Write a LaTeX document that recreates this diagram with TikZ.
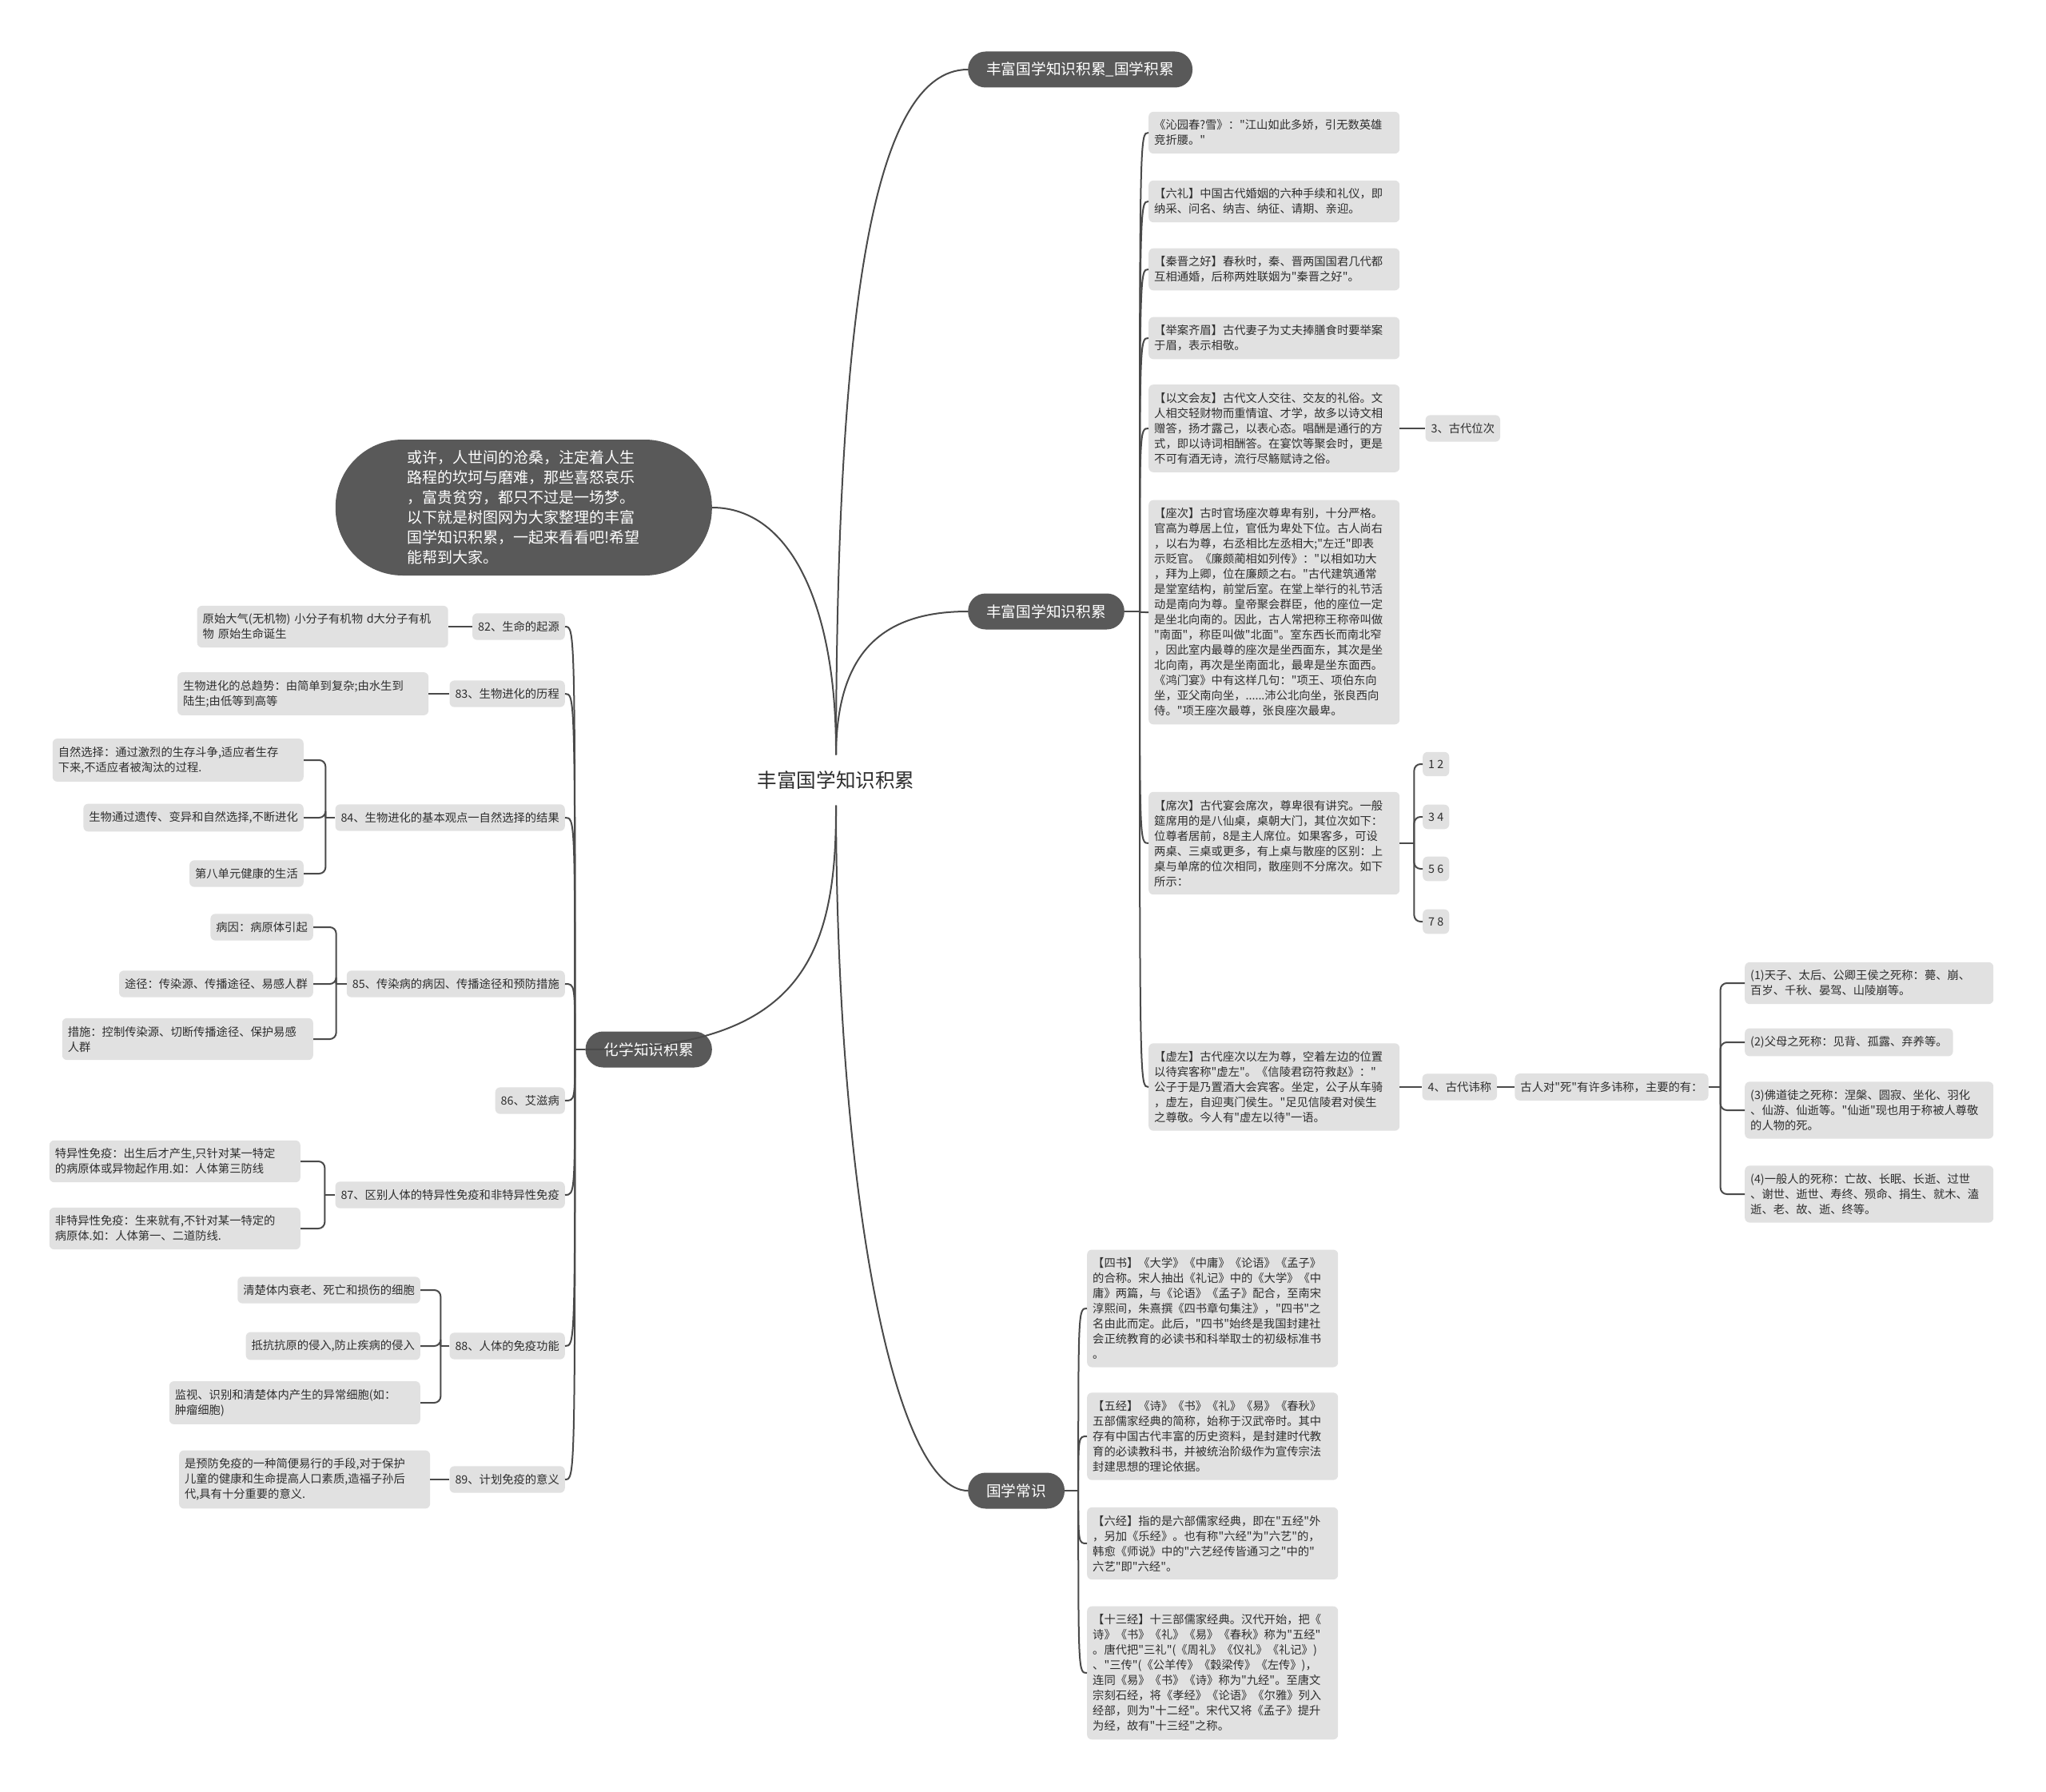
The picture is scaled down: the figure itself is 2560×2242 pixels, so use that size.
\documentclass[tikz,border=0pt]{standalone}
\usepackage{fontspec}
\newfontfamily\cjk{Noto Sans CJK SC}
\usetikzlibrary{positioning}

\definecolor{branchgray}{HTML}{595959}
\definecolor{leafgray}{HTML}{E1E1E1}
\definecolor{linegray}{HTML}{4A4A4A}
\definecolor{inkgray}{HTML}{2E2E2E}

\begin{document}
\begin{tikzpicture}[
    x=1pt, y=-1pt,
    node distance=30pt,
    root/.style={text=inkgray, font=\cjk\fontsize{24.6}{30}\selectfont, inner xsep=4pt, inner ysep=20pt},
    branch/.style={rectangle, fill=branchgray, text=white, rounded corners=22pt, minimum height=45pt, inner xsep=23pt, inner ysep=10pt, font=\cjk\fontsize{18.7}{24}\selectfont},
    bubble/.style={branch, rounded corners=84pt, minimum width=471pt, minimum height=170pt, align=left, font=\cjk\fontsize{19}{25}\selectfont},
    leaf/.style={rectangle, fill=leafgray, text=inkgray, rounded corners=6pt, inner xsep=7pt, inner ysep=10pt, align=left, font=\cjk\fontsize{14.3}{19}\selectfont},
    wide/.style={leaf, text width=300pt},
    link/.style={draw=linegray, line width=2pt},
    elbow/.style={link, rounded corners=8pt}
]
\fill[white] (0,0) rectangle (2560,2242);
\useasboundingbox (0,0) rectangle (2560,2242);

% centre and main branches
\node[root] (root) at (1046,976) {丰富国学知识积累};
\node[branch, anchor=west] (ka) at (1211,87) {丰富国学知识积累\_国学积累};
\node[branch, anchor=west] (kb) at (1211,765) {丰富国学知识积累};
\node[branch, anchor=west] (kc) at (1211,1865) {国学常识};
\node[branch, anchor=east] (kd) at (891,1313) {化学知识积累};
\node[bubble, anchor=east] (intro) at (891,635) {或许，人世间的沧桑，注定着人生\\路程的坎坷与磨难，那些喜怒哀乐\\，富贵贫穷，都只不过是一场梦。\\以下就是树图网为大家整理的丰富\\国学知识积累，一起来看看吧!希望\\能帮到大家。};

\draw[link] (root.north) .. controls (1047,400) and (1090,87) .. (ka.west);
\draw[link] (root.north) .. controls (1047,820) and (1100,765) .. (kb.west);
\draw[link] (root.north) .. controls (1047,760) and (990,635) .. (intro.east);
\draw[link] (root.south) .. controls (1047,1200) and (1000,1313) .. (kd.west);
\draw[link] (root.south) .. controls (1047,1500) and (1120,1865) .. (kc.west);

% 丰富国学知识积累
\node[wide, anchor=west] (c1) at (1437,166) {《沁园春?雪》："江山如此多娇，引无数英雄\\竞折腰。"};
\node[wide, anchor=west] (c2) at (1437,252) {【六礼】中国古代婚姻的六种手续和礼仪，即\\纳采、问名、纳吉、纳征、请期、亲迎。};
\node[wide, anchor=west] (c3) at (1437,337) {【秦晋之好】春秋时，秦、晋两国国君几代都\\互相通婚，后称两姓联姻为"秦晋之好"。};
\node[wide, anchor=west] (c4) at (1437,423) {【举案齐眉】古代妻子为丈夫捧膳食时要举案\\于眉，表示相敬。};
\node[wide, anchor=west] (c5) at (1437,536) {【以文会友】古代文人交往、交友的礼俗。文\\人相交轻财物而重情谊、才学，故多以诗文相\\赠答，扬才露己，以表心态。唱酬是通行的方\\式，即以诗词相酬答。在宴饮等聚会时，更是\\不可有酒无诗，流行尽觞赋诗之俗。};
\node[wide, anchor=west] (c6) at (1437,766) {【座次】古时官场座次尊卑有别，十分严格。\\官高为尊居上位，官低为卑处下位。古人尚右\\，以右为尊，右丞相比左丞相大;"左迁"即表\\示贬官。《廉颇蔺相如列传》："以相如功大\\，拜为上卿，位在廉颇之右。"古代建筑通常\\是堂室结构，前堂后室。在堂上举行的礼节活\\动是南向为尊。皇帝聚会群臣，他的座位一定\\是坐北向南的。因此，古人常把称王称帝叫做\\"南面"，称臣叫做"北面"。室东西长而南北窄\\，因此室内最尊的座次是坐西面东，其次是坐\\北向南，再次是坐南面北，最卑是坐东面西。\\《鸿门宴》中有这样几句："项王、项伯东向\\坐，亚父南向坐，......沛公北向坐，张良西向\\侍。"项王座次最尊，张良座次最卑。};
\node[wide, anchor=west] (c7) at (1437,1055) {【席次】古代宴会席次，尊卑很有讲究。一般\\筵席用的是八仙桌，桌朝大门，其位次如下：\\位尊者居前，8是主人席位。如果客多，可设\\两桌、三桌或更多，有上桌与散座的区别：上\\桌与单席的位次相同，散座则不分席次。如下\\所示：};
\node[wide, anchor=west] (c8) at (1437,1360) {【虚左】古代座次以左为尊，空着左边的位置\\以待宾客称"虚左"。《信陵君窃符救赵》："\\公子于是乃置酒大会宾客。坐定，公子从车骑\\，虚左，自迎夷门侯生。"足见信陵君对侯生\\之尊敬。今人有"虚左以待"一语。};

\coordinate[right=19pt of kb] (bj);
\draw[link] (kb.east) -- (bj);
\foreach \ch in {c1,c2,c3,c4,c5,c6,c7,c8}
    \draw[link] (bj) .. controls (bj |- \ch.west) .. (\ch.west);

\node[leaf, right=32pt of c5] (n3) {3、古代位次};
\draw[link] (c5.east) -- (n3.west);

\node[leaf, anchor=west] (s12) at (1780,956) {1 2};
\node[leaf, anchor=west] (s34) at (1780,1022) {3 4};
\node[leaf, anchor=west] (s56) at (1780,1087) {5 6};
\node[leaf, anchor=west] (s78) at (1780,1153) {7 8};
\coordinate[right=18pt of c7] (xj);
\draw[link] (c7.east) -- (xj);
\foreach \ch in {s12,s34,s56,s78}
    \draw[elbow] (xj) |- (\ch.west);

\node[leaf, right=28pt of c8] (n4) {4、古代讳称};
\node[leaf, right=22pt of n4] (die) {古人对"死"有许多讳称，主要的有：};
\draw[link] (c8.east) -- (n4.west);
\draw[link] (n4.east) -- (die.west);

\node[wide, text width=297pt, anchor=west] (d1) at (2183,1230) {(1)天子、太后、公卿王侯之死称：薨、崩、\\百岁、千秋、晏驾、山陵崩等。};
\node[leaf, anchor=west] (d2) at (2183,1304) {(2)父母之死称：见背、孤露、弃养等。};
\node[wide, text width=297pt, anchor=west] (d3) at (2183,1389) {(3)佛道徒之死称：涅槃、圆寂、坐化、羽化\\、仙游、仙逝等。"仙逝"现也用于称被人尊敬\\的人物的死。};
\node[wide, text width=297pt, anchor=west] (d4) at (2183,1494) {(4)一般人的死称：亡故、长眠、长逝、过世\\、谢世、逝世、寿终、殒命、捐生、就木、溘\\逝、老、故、逝、终等。};
\coordinate[right=15pt of die] (yj);
\draw[link] (die.east) -- (yj);
\foreach \ch in {d1,d2,d3,d4}
    \draw[elbow] (yj) |- (\ch.west);

% 国学常识
\node[wide, anchor=west] (e1) at (1360,1637) {【四书】《大学》《中庸》《论语》《孟子》\\的合称。宋人抽出《礼记》中的《大学》《中\\庸》两篇，与《论语》《孟子》配合，至南宋\\淳熙间，朱熹撰《四书章句集注》，"四书"之\\名由此而定。此后，"四书"始终是我国封建社\\会正统教育的必读书和科举取士的初级标准书\\。};
\node[wide, anchor=west] (e2) at (1360,1797) {【五经】《诗》《书》《礼》《易》《春秋》\\五部儒家经典的简称，始称于汉武帝时。其中\\存有中国古代丰富的历史资料，是封建时代教\\育的必读教科书，并被统治阶级作为宣传宗法\\封建思想的理论依据。};
\node[wide, anchor=west] (e3) at (1360,1931) {【六经】指的是六部儒家经典，即在"五经"外\\，另加《乐经》。也有称"六经"为"六艺"的，\\韩愈《师说》中的"六艺经传皆通习之"中的"\\六艺"即"六经"。};
\node[wide, anchor=west] (e4) at (1360,2093) {【十三经】十三部儒家经典。汉代开始，把《\\诗》《书》《礼》《易》《春秋》称为"五经"\\。唐代把"三礼"(《周礼》《仪礼》《礼记》)\\、"三传"(《公羊传》《穀梁传》《左传》)，\\连同《易》《书》《诗》称为"九经"。至唐文\\宗刻石经，将《孝经》《论语》《尔雅》列入\\经部，则为"十二经"。宋代又将《孟子》提升\\为经，故有"十三经"之称。};

\coordinate[right=17pt of kc] (cj);
\draw[link] (kc.east) -- (cj);
\foreach \ch in {e1,e2,e3,e4}
    \draw[link] (cj) .. controls (cj |- \ch.west) .. (\ch.west);

% 化学知识积累
\node[leaf, anchor=east] (f1) at (707,784) {82、生命的起源};
\node[leaf, anchor=east] (f2) at (707,868) {83、生物进化的历程};
\node[leaf, anchor=east] (f3) at (707,1023) {84、生物进化的基本观点一自然选择的结果};
\node[leaf, anchor=east] (f4) at (707,1231) {85、传染病的病因、传播途径和预防措施};
\node[leaf, anchor=east] (f5) at (707,1377) {86、艾滋病};
\node[leaf, anchor=east] (f6) at (707,1495) {87、区别人体的特异性免疫和非特异性免疫};
\node[leaf, anchor=east] (f7) at (707,1684) {88、人体的免疫功能};
\node[leaf, anchor=east] (f8) at (707,1851) {89、计划免疫的意义};

\coordinate[left=13pt of kd] (dj);
\draw[link] (kd.west) -- (dj);
\foreach \ch in {f1,f2,f3,f4,f5,f6,f7,f8}
    \draw[link] (dj) .. controls (dj |- \ch.east) .. (\ch.east);

\node[wide, left=30pt of f1] (g1) {原始大气(无机物) 小分子有机物 d大分子有机\\物 原始生命诞生};
\node[wide, left=26pt of f2] (g2) {生物进化的总趋势：由简单到复杂;由水生到\\陆生;由低等到高等};
\draw[link] (f1.west) -- (g1.east);
\draw[link] (f2.west) -- (g2.east);

\node[wide, anchor=east] (g3a) at (380,951) {自然选择：通过激烈的生存斗争,适应者生存\\下来,不适应者被淘汰的过程.};
\node[leaf, anchor=east] (g3b) at (380,1023) {生物通过遗传、变异和自然选择,不断进化};
\node[leaf, anchor=east] (g3c) at (380,1093) {第八单元健康的生活};
\coordinate[left=12pt of f3] (j3);
\draw[link] (f3.west) -- (j3);
\foreach \ch in {g3a,g3b,g3c}
    \draw[elbow] (j3) |- (\ch.east);

\node[leaf, anchor=east] (g4a) at (392,1160) {病因：病原体引起};
\node[leaf, anchor=east] (g4b) at (392,1231) {途径：传染源、传播途径、易感人群};
\node[wide, anchor=east] (g4c) at (392,1300) {措施：控制传染源、切断传播途径、保护易感\\人群};
\coordinate[left=13pt of f4] (j4);
\draw[link] (f4.west) -- (j4);
\foreach \ch in {g4a,g4b,g4c}
    \draw[elbow] (j4) |- (\ch.east);

\node[wide, anchor=east] (g6a) at (376,1453) {特异性免疫：出生后才产生,只针对某一特定\\的病原体或异物起作用.如：人体第三防线};
\node[wide, anchor=east] (g6b) at (376,1537) {非特异性免疫：生来就有,不针对某一特定的\\病原体.如：人体第一、二道防线.};
\coordinate[left=13pt of f6] (j6);
\draw[link] (f6.west) -- (j6);
\foreach \ch in {g6a,g6b}
    \draw[elbow] (j6) |- (\ch.east);

\node[leaf, anchor=east] (g7a) at (526,1614) {清楚体内衰老、死亡和损伤的细胞};
\node[leaf, anchor=east] (g7b) at (526,1684) {抵抗抗原的侵入,防止疾病的侵入};
\node[wide, anchor=east] (g7c) at (526,1755) {监视、识别和清楚体内产生的异常细胞(如：\\肿瘤细胞)};
\coordinate[left=11pt of f7] (j7);
\draw[link] (f7.west) -- (j7);
\foreach \ch in {g7a,g7b,g7c}
    \draw[elbow] (j7) |- (\ch.east);

\node[wide, left=24pt of f8] (g8) {是预防免疫的一种简便易行的手段,对于保护\\儿童的健康和生命提高人口素质,造福子孙后\\代,具有十分重要的意义.};
\draw[link] (f8.west) -- (g8.east);

\end{tikzpicture}
\end{document}
